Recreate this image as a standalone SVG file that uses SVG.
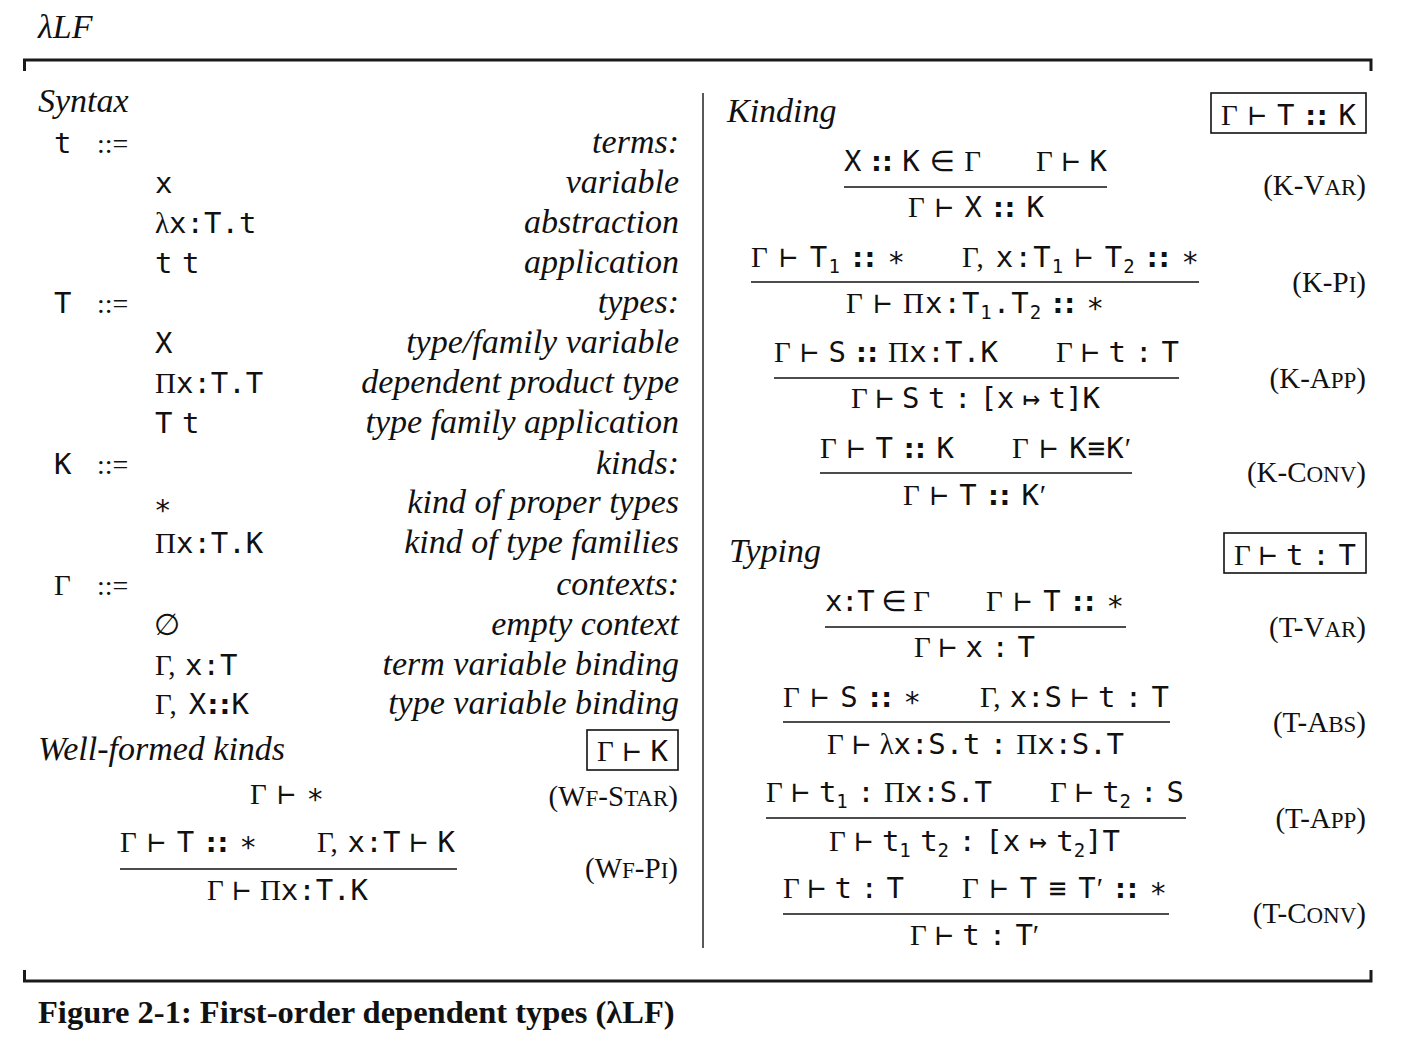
<svg xmlns="http://www.w3.org/2000/svg" width="1412" height="1062" viewBox="0 0 1412 1062">
<style>
text{fill:#111}
.m{font-family:"DejaVu Sans Mono",monospace;font-size:29px;word-spacing:-8px}
.s{font-family:"Liberation Serif",serif}
.c{font-family:"DejaVu Sans",sans-serif;font-weight:bold;font-size:27px}
.e{font-family:"DejaVu Sans",sans-serif}
.p{font-family:"DejaVu Sans",sans-serif;font-size:30px}
.sub{font-size:19px}
.it{font-family:"Liberation Serif",serif;font-style:italic;font-size:34px}
.r{text-anchor:end}
.lab{font-family:"Liberation Serif",serif;font-size:29px;text-anchor:end}
.sc{font-size:23px}
.op{font-family:"Liberation Serif",serif;font-size:28px}
.cap{font-family:"Liberation Serif",serif;font-weight:bold;font-size:32.5px}
.frame{fill:none;stroke:#1a1a1a;stroke-width:3}
.rl{stroke:#111;stroke-width:1.6}
.box{fill:none;stroke:#111;stroke-width:1.6}
.div{stroke:#222;stroke-width:1.5}
</style>
<rect width="1412" height="1062" fill="#fff"/>
<g id="header">
<text class="it" x="38" y="38" font-size="32">λLF</text>
<path class="frame" d="M24.5,71 V60 H1371 V71"/>
</g>
<g id="syntax">
<text class="it" x="38" y="112">Syntax</text>
<text class="m" x="54" y="153">t</text><text class="op" x="97" y="153">::=</text><text class="it r" x="679" y="153">terms:</text>
<text class="m" x="155" y="193">x</text><text class="it r" x="679" y="193">variable</text>
<text class="m" x="155" y="233"><tspan class="s">λ</tspan>x:T.t</text><text class="it r" x="679" y="233">abstraction</text>
<text class="m" x="155" y="273">t t</text><text class="it r" x="679" y="273">application</text>
<text class="m" x="54" y="313">T</text><text class="op" x="97" y="313">::=</text><text class="it r" x="679" y="313">types:</text>
<text class="m" x="155" y="353">X</text><text class="it r" x="679" y="353">type/family variable</text>
<text class="m" x="155" y="393"><tspan class="s">Π</tspan>x:T.T</text><text class="it r" x="679" y="393">dependent product type</text>
<text class="m" x="155" y="433">T t</text><text class="it r" x="679" y="433">type family application</text>
<text class="m" x="54" y="474">K</text><text class="op" x="97" y="474">::=</text><text class="it r" x="679" y="474">kinds:</text>
<text class="m" x="154" y="515" font-size="34">∗</text><text class="it r" x="679" y="513">kind of proper types</text>
<text class="m" x="155" y="553"><tspan class="s">Π</tspan>x:T.K</text><text class="it r" x="679" y="553">kind of type families</text>
<text class="m" x="54" y="595"><tspan class="s">Γ</tspan></text><text class="op" x="97" y="595">::=</text><text class="it r" x="679" y="595">contexts:</text>
<text class="p" x="154" y="635">∅</text><text class="it r" x="679" y="635">empty context</text>
<text class="m" x="155" y="675"><tspan class="s">Γ,</tspan> x:T</text><text class="it r" x="679" y="675">term variable binding</text>
<text class="m" x="155" y="714" textLength="94"><tspan class="s">Γ,</tspan> X<tspan class="c">::</tspan>K</text><text class="it r" x="679" y="714">type variable binding</text>
</g>
<g id="wellformed">
<text class="it" x="38" y="760">Well-formed kinds</text>
<rect class="box" x="587" y="730" width="91" height="40"/>
<text class="m" x="597" y="761" textLength="71"><tspan class="s">Γ</tspan> ⊢ K</text>
<text class="m" x="250" y="804" textLength="74"><tspan class="s">Γ</tspan> ⊢ ∗</text>
<text class="lab" x="678" y="806">(W<tspan class="sc">F</tspan>-S<tspan class="sc">TAR</tspan>)</text>
<text class="m" x="120" y="852" textLength="137"><tspan class="s">Γ</tspan> ⊢ T <tspan class="c">::</tspan> ∗</text>
<text class="m" x="317" y="852" textLength="138"><tspan class="s">Γ,</tspan> x:T ⊢ K</text>
<line class="rl" x1="120" y1="869" x2="457" y2="869"/>
<text class="m" x="207" y="900" textLength="161"><tspan class="s">Γ</tspan> ⊢ <tspan class="s">Π</tspan>x:T.K</text>
<text class="lab" x="678" y="878">(W<tspan class="sc">F</tspan>-P<tspan class="sc">I</tspan>)</text>
</g>
<line id="divider" class="div" x1="703" y1="93" x2="703" y2="948"/>
<g id="kinding">
<text class="it" x="727" y="122">Kinding</text>
<rect class="box" x="1211" y="93" width="155" height="40"/>
<text class="m" x="1221" y="125" textLength="135"><tspan class="s">Γ</tspan> ⊢ T <tspan class="c">::</tspan> K</text>
<text class="m" x="844" y="171" textLength="137">X <tspan class="c">::</tspan> K <tspan class="e">∈</tspan> <tspan class="s">Γ</tspan></text>
<text class="m" x="1036" y="171" textLength="71"><tspan class="s">Γ</tspan> ⊢ K</text>
<line class="rl" x1="844" y1="187" x2="1107" y2="187"/>
<text class="m" x="908" y="217" textLength="136"><tspan class="s">Γ</tspan> ⊢ X <tspan class="c">::</tspan> K</text>
<text class="lab" x="1366" y="195">(K-V<tspan class="sc">AR</tspan>)</text>
<text class="m" x="751" y="267" textLength="154"><tspan class="s">Γ</tspan> ⊢ T<tspan class="sub" dy="6">1</tspan><tspan dy="-6"> <tspan class="c">::</tspan> ∗</tspan></text>
<text class="m" x="962" y="267" textLength="237"><tspan class="s">Γ,</tspan> x:T<tspan class="sub" dy="6">1</tspan><tspan dy="-6"> ⊢ T</tspan><tspan class="sub" dy="6">2</tspan><tspan dy="-6"> <tspan class="c">::</tspan> ∗</tspan></text>
<line class="rl" x1="751" y1="282" x2="1199" y2="282"/>
<text class="m" x="846" y="313" textLength="258"><tspan class="s">Γ</tspan> ⊢ <tspan class="s">Π</tspan>x:T<tspan class="sub" dy="6">1</tspan><tspan dy="-6">.T</tspan><tspan class="sub" dy="6">2</tspan><tspan dy="-6"> <tspan class="c">::</tspan> ∗</tspan></text>
<text class="lab" x="1366" y="292">(K-P<tspan class="sc">I</tspan>)</text>
<text class="m" x="774" y="362" textLength="224"><tspan class="s">Γ</tspan> ⊢ S <tspan class="c">::</tspan> <tspan class="s">Π</tspan>x:T.K</text>
<text class="m" x="1056" y="362" textLength="123"><tspan class="s">Γ</tspan> ⊢ t : T</text>
<line class="rl" x1="774" y1="378" x2="1179" y2="378"/>
<text class="m" x="851" y="408" textLength="249"><tspan class="s">Γ</tspan> ⊢ S t : [x ↦ t]K</text>
<text class="lab" x="1366" y="388">(K-A<tspan class="sc">PP</tspan>)</text>
<text class="m" x="820" y="458" textLength="134"><tspan class="s">Γ</tspan> ⊢ T <tspan class="c">::</tspan> K</text>
<text class="m" x="1012" y="458" textLength="119"><tspan class="s">Γ</tspan> ⊢ K≡K<tspan class="s">′</tspan></text>
<line class="rl" x1="820" y1="473" x2="1132" y2="473"/>
<text class="m" x="903" y="505" textLength="143"><tspan class="s">Γ</tspan> ⊢ T <tspan class="c">::</tspan> K<tspan class="s">′</tspan></text>
<text class="lab" x="1366" y="482">(K-C<tspan class="sc">ONV</tspan>)</text>
</g>
<g id="typing">
<text class="it" x="729" y="562">Typing</text>
<rect class="box" x="1224" y="533" width="142" height="40"/>
<text class="m" x="1234" y="565" textLength="122"><tspan class="s">Γ</tspan> ⊢ t : T</text>
<text class="m" x="825" y="611" textLength="105">x:T <tspan class="e">∈</tspan> <tspan class="s">Γ</tspan></text>
<text class="m" x="986" y="611" textLength="138"><tspan class="s">Γ</tspan> ⊢ T <tspan class="c">::</tspan> ∗</text>
<line class="rl" x1="825" y1="627" x2="1126" y2="627"/>
<text class="m" x="914" y="657" textLength="121"><tspan class="s">Γ</tspan> ⊢ x : T</text>
<text class="lab" x="1366" y="637">(T-V<tspan class="sc">AR</tspan>)</text>
<text class="m" x="783" y="707" textLength="138"><tspan class="s">Γ</tspan> ⊢ S <tspan class="c">::</tspan> ∗</text>
<text class="m" x="980" y="707" textLength="189"><tspan class="s">Γ,</tspan> x:S ⊢ t : T</text>
<line class="rl" x1="783" y1="722" x2="1170" y2="722"/>
<text class="m" x="827" y="754" textLength="297"><tspan class="s">Γ</tspan> ⊢ <tspan class="s">λ</tspan>x:S.t : <tspan class="s">Π</tspan>x:S.T</text>
<text class="lab" x="1366" y="732">(T-A<tspan class="sc">BS</tspan>)</text>
<text class="m" x="766" y="802" textLength="226"><tspan class="s">Γ</tspan> ⊢ t<tspan class="sub" dy="6">1</tspan><tspan dy="-6"> : </tspan><tspan class="s">Π</tspan>x:S.T</text>
<text class="m" x="1050" y="802" textLength="134"><tspan class="s">Γ</tspan> ⊢ t<tspan class="sub" dy="6">2</tspan><tspan dy="-6"> : S</tspan></text>
<line class="rl" x1="766" y1="818" x2="1186" y2="818"/>
<text class="m" x="829" y="851" textLength="291"><tspan class="s">Γ</tspan> ⊢ t<tspan class="sub" dy="6">1</tspan><tspan dy="-6"> t</tspan><tspan class="sub" dy="6">2</tspan><tspan dy="-6"> : [x ↦ t</tspan><tspan class="sub" dy="6">2</tspan><tspan dy="-6">]T</tspan></text>
<text class="lab" x="1366" y="828">(T-A<tspan class="sc">PP</tspan>)</text>
<text class="m" x="783" y="898" textLength="121"><tspan class="s">Γ</tspan> ⊢ t : T</text>
<text class="m" x="962" y="898" textLength="205"><tspan class="s">Γ</tspan> ⊢ T ≡ T<tspan class="s">′</tspan> <tspan class="c">::</tspan> ∗</text>
<line class="rl" x1="783" y1="914" x2="1169" y2="914"/>
<text class="m" x="910" y="945" textLength="129"><tspan class="s">Γ</tspan> ⊢ t : T<tspan class="s">′</tspan></text>
<text class="lab" x="1366" y="923">(T-C<tspan class="sc">ONV</tspan>)</text>
</g>
<g id="footer">
<path class="frame" d="M24.5,970 V981 H1371 V970"/>
<text class="cap" x="38" y="1023">Figure 2-1: First-order dependent types (λLF)</text>
</g>
</svg>
